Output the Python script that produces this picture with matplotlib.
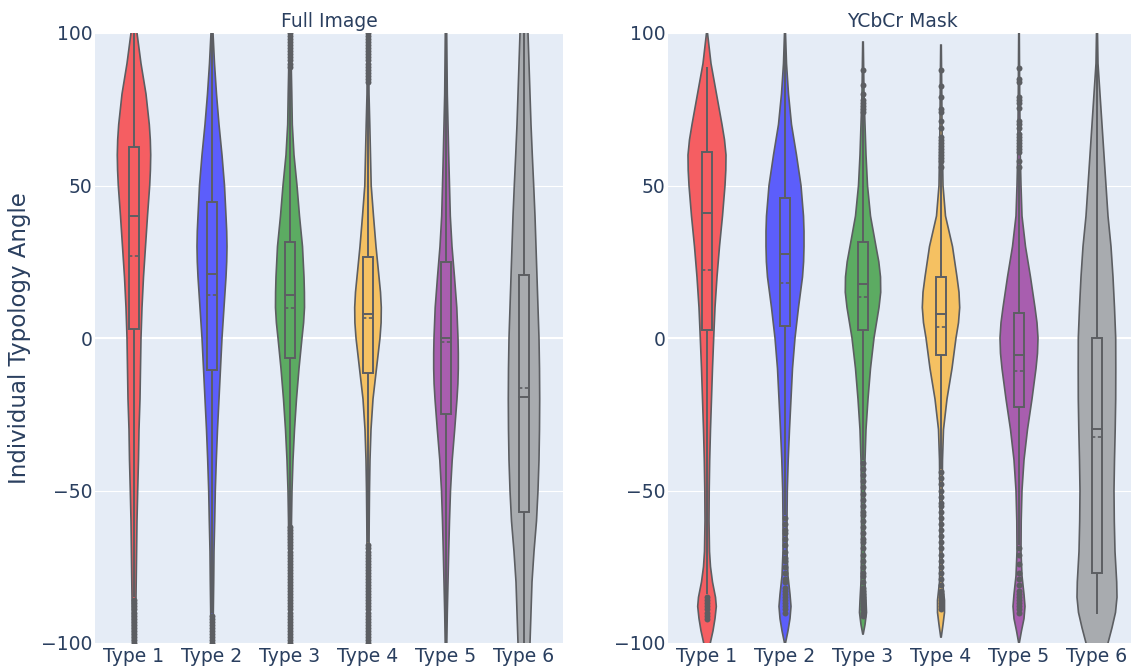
import matplotlib
matplotlib.use('Agg')
import matplotlib.pyplot as plt
from matplotlib.patches import Rectangle

# ---- data ----
types = ["Type 1", "Type 2", "Type 3", "Type 4", "Type 5", "Type 6"]
fills = ['#F55E62', '#5C5EFB', '#5CAB62', '#F5C162', '#A85EAF', '#A8ABAF']

# violin outlines: angle levels and half widths (px, relative density)
full_y1 = [100, 90, 80, 70, 65, 60, 55, 50, 40, 30, 20, 10, 0, -10, -20, -30, -40, -50, -60, -70, -80, -90, -100]
full_w1 = [3, 7, 12, 15.3, 16.3, 16.7, 16.4, 15.7, 13.5, 11.5, 9.5, 8, 7, 6.5, 6, 5, 4.5, 3.7, 3, 2.6, 2.2, 1.8, 1.5]
full_y2 = [100, 90, 80, 70, 60, 50, 40, 35, 30, 25, 20, 10, 0, -10, -20, -30, -40, -50, -60, -70, -80, -90, -100]
full_w2 = [1, 2.5, 4.5, 7, 10, 12.5, 14, 14.7, 15, 14.7, 14, 12, 10, 8.5, 7, 5.5, 4.3, 3.3, 2.7, 2, 1.7, 1.3, 1]
full_y3 = [100, 90, 80, 70, 60, 50, 40, 30, 20, 15, 10, 5, 0, -10, -20, -30, -40, -50, -60, -70, -80, -90, -100]
full_w3 = [0.8, 1.2, 1.8, 2.3, 4, 7, 9.5, 12.5, 14, 14.4, 14.5, 13.6, 12, 9, 6.5, 4.5, 3, 2, 1.5, 1.2, 1, 0.8, 0.6]
full_y4 = [100, 90, 80, 70, 60, 50, 40, 30, 20, 15, 10, 5, 0, -10, -20, -30, -40, -50, -60, -70, -80, -90, -100]
full_w4 = [0.5, 0.8, 1, 1.8, 2.5, 3.2, 5.5, 8, 11, 12.5, 13.3, 13.1, 12, 8.5, 5, 3, 2, 1.5, 1.2, 1, 0.8, 0.6, 0.5]
full_y5 = [100, 90, 80, 70, 60, 50, 40, 30, 20, 10, 0, -5, -10, -15, -20, -30, -40, -50, -60, -70, -80, -90, -100]
full_w5 = [0.7, 1, 1.3, 2, 2.7, 3.5, 4.3, 6, 8.5, 10.8, 12, 12.3, 12.3, 11.9, 11, 8.7, 6.2, 4.5, 3.5, 2.7, 2, 1.3, 0.8]
full_y6 = [100, 90, 80, 70, 60, 50, 40, 30, 20, 10, 0, -10, -20, -30, -40, -50, -60, -70, -80, -90, -100]
full_w6 = [4, 5, 6, 7, 8.3, 9.7, 11, 12, 13, 14, 15, 15.5, 15.7, 15.5, 15, 14, 12.5, 10, 8, 7, 6]

mask_y1 = [100, 90, 80, 70, 65, 60, 55, 50, 40, 30, 20, 10, 0, -10, -20, -30, -40, -50, -60, -70, -75, -80, -85, -88, -92, -96, -100]
mask_w1 = [0.5, 4, 9.5, 15, 17.5, 19, 18.8, 18, 15.5, 12.5, 10, 8, 6.7, 5.5, 4.5, 3.5, 2.7, 2.2, 2, 2.5, 3.5, 5.5, 8.5, 9.3, 8, 6, 3.3]
mask_y2 = [100, 90, 80, 70, 60, 50, 40, 35, 30, 25, 20, 10, 0, -10, -20, -30, -40, -50, -60, -70, -78, -84, -88, -92, -96, -100]
mask_w2 = [0.5, 1.5, 3.5, 6.5, 11.5, 16, 18.5, 19, 19, 18.6, 17.5, 13.5, 10, 7.5, 6, 4.5, 3.2, 2.3, 2, 2, 3, 5, 6, 5, 3, 0.5]
mask_y3 = [97, 90, 80, 70, 60, 50, 40, 30, 25, 20, 15, 10, 0, -10, -20, -30, -40, -50, -60, -70, -80, -86, -90, -94, -97]
mask_w3 = [0.3, 0.6, 1, 2, 3, 4.5, 7.5, 13, 15.8, 17.5, 17.7, 16, 11, 7.5, 5, 3, 2, 1.6, 1.5, 1.5, 2, 3, 3.5, 2, 0.3]
mask_y4 = [96, 90, 80, 70, 60, 50, 40, 30, 20, 15, 10, 5, 0, -10, -20, -30, -40, -50, -60, -70, -80, -86, -90, -94, -98]
mask_w4 = [0.3, 0.5, 0.8, 1, 1.5, 2, 4.5, 11.5, 16, 18, 18.7, 17.5, 15, 11, 6, 2.5, 1.5, 1.2, 1, 1, 1.5, 3.5, 3.5, 2, 0.3]
mask_y5 = [100, 90, 80, 70, 60, 50, 40, 30, 20, 10, 5, 0, -5, -10, -20, -30, -40, -50, -60, -70, -78, -84, -88, -92, -96, -100]
mask_w5 = [0.3, 0.5, 0.7, 1, 1.3, 2, 3, 6.5, 11.5, 16, 18, 19, 18.5, 17, 13, 8.5, 5, 3, 2.2, 2, 3, 5, 6, 5, 2.5, 0.3]
mask_y6 = [100, 90, 80, 70, 60, 50, 40, 30, 20, 10, 0, -10, -20, -30, -40, -50, -60, -70, -80, -85, -90, -95, -100]
mask_w6 = [0.5, 1, 3, 5, 7, 9, 11, 14, 16, 17.5, 18.7, 18.8, 18.7, 18.2, 17.5, 17, 17.3, 18, 19.7, 20, 18.5, 15, 11]

# box statistics
full_q1 = [3, -10.5, -6.5, -11.5, -25, -57]
full_med = [40, 21, 14, 8, 0, -19.5]
full_q3 = [62.5, 44.5, 31.5, 26.7, 25, 20.5]
full_mean = [27, 14, 10, 6.5, -1.2, -16.5]
full_lo = [-85, -90, -62, -67, -99, -100]
full_hi = [100, 100, 88, 83, 99, 100]

mask_q1 = [2.5, 4, 2.6, -5.7, -22.6, -77]
mask_med = [41, 27.5, 17.6, 7.8, -5.7, -29.7]
mask_q3 = [61, 46, 31.5, 20, 8.2, 0]
mask_mean = [22.4, 18, 13.3, 3.6, -10.8, -32.4]
mask_lo = [-84, -58, -40, -43, -68, -90.5]
mask_hi = [89, 100, 74, 57, 55, 100]

# outliers
full_out1 = [-86, -87, -88, -89, -90, -91, -92, -93, -94, -95, -96, -97, -98, -99, -100]
full_out2 = [-91, -92, -93, -94, -95, -96, -97, -98, -99, -100]
full_out3 = [89, 90, 91, 92, 93, 94, 95, 96, 97, 98, 99, 100,
             -62, -63, -64, -65, -66, -67, -68, -69, -70, -71, -72, -73, -74, -75, -76, -77, -78, -79, -80,
             -81, -82, -83, -84, -85, -86, -87, -88, -89, -90, -91, -92, -93, -94, -95, -96, -97, -98, -99, -100]
full_out4 = [84, 85, 86, 87, 88, 89, 90, 91, 92, 93, 94, 95, 96, 97, 98, 99, 100,
             -68, -69, -70, -71, -72, -73, -74, -75, -76, -77, -78, -79, -80, -81, -82, -83, -84,
             -85, -86, -87, -88, -89, -90, -91, -92, -93, -94, -95, -96, -97, -98, -99, -100]
full_out5 = []
full_out6 = []

mask_out1 = [-85, -86, -87, -88, -89, -90, -91, -92]
mask_out2 = [-59, -61, -63, -64, -66, -68, -70, -72, -73, -75, -77, -79, -80, -82, -83, -84,
             -85, -86, -87, -88, -89, -90]
mask_out3 = [74, 75, 76, 77, 78, 80, 83, 88,
             -41, -43, -45, -47, -49, -51, -53, -55, -57, -58, -60, -62, -64, -66, -67, -69, -71,
             -73, -75, -77, -78, -80, -82, -83, -84, -85, -86, -87, -88, -89, -90, -91]
mask_out4 = [56, 58, 59, 60, 61, 62, 63, 64, 65, 66, 69, 71, 74, 75, 79, 82.5, 88,
             -44, -46, -48, -50, -52, -54, -55, -57, -59, -61, -63, -65, -67, -69, -71, -73, -75,
             -77, -79, -81, -83, -84, -85, -86, -87, -88, -89]
mask_out5 = [56, 58, 61, 62, 63, 64, 65, 66, 67, 69, 70, 71, 75.5, 77, 78, 79, 84, 85, 88.5,
             -69, -71, -74, -77, -79, -81, -83, -84, -85, -86, -87, -88, -89, -90]
mask_out6 = []

full = dict(y=[full_y1, full_y2, full_y3, full_y4, full_y5, full_y6],
            w=[full_w1, full_w2, full_w3, full_w4, full_w5, full_w6],
            q1=full_q1, med=full_med, q3=full_q3, mean=full_mean, lo=full_lo, hi=full_hi,
            out=[full_out1, full_out2, full_out3, full_out4, full_out5, full_out6])
mask = dict(y=[mask_y1, mask_y2, mask_y3, mask_y4, mask_y5, mask_y6],
            w=[mask_w1, mask_w2, mask_w3, mask_w4, mask_w5, mask_w6],
            q1=mask_q1, med=mask_med, q3=mask_q3, mean=mask_mean, lo=mask_lo, hi=mask_hi,
            out=[mask_out1, mask_out2, mask_out3, mask_out4, mask_out5, mask_out6])

# ---- style ----
bg = '#E5ECF6'
line_c = '#5C5E62'
text_c = '#2a3f5f'
px_per_cat = 78.0
box_half = 5 / px_per_cat
plt.rcParams['font.family'] = ['DejaVu Sans']

fig = plt.figure(figsize=(11.31, 6.68), dpi=100)
ax_l = fig.add_axes([95 / 1131, 1 - 643 / 668, 468 / 1131, 610 / 668])
ax_r = fig.add_axes([668 / 1131, 1 - 643 / 668, 468 / 1131, 610 / 668])


def draw_panel(ax, d):
    ax.set_facecolor(bg)
    for s in ax.spines.values():
        s.set_visible(False)
    ax.set_xlim(-0.5, 5.5)
    ax.set_ylim(-100, 100)
    ax.set_yticks([-100, -50, 0, 50, 100])
    ax.set_xticks(range(6))
    ax.set_xticklabels(types)
    ax.tick_params(length=0, labelsize=13.5, labelcolor=text_c)
    ax.tick_params(axis='y', pad=2)
    ax.tick_params(axis='x', pad=3)
    ax.set_axisbelow(True)
    ax.yaxis.grid(True, color='white', lw=0.8)
    ax.axhline(0, color='white', lw=1.5, zorder=0.6)

    for i in range(6):
        y = d['y'][i]
        hw = [v / px_per_cat for v in d['w'][i]]
        left = [i - h for h in hw]
        right = [i + h for h in hw]
        ax.fill_betweenx(y, left, right, facecolor=fills[i], edgecolor='none', zorder=2)
        ax.plot(left, y, color=line_c, lw=1.2, zorder=3)
        ax.plot(right, y, color=line_c, lw=1.2, zorder=3)
        # whisker
        ax.plot([i, i], [d['lo'][i], d['hi'][i]], color=line_c, lw=1.4, zorder=4, solid_capstyle='butt')
        # box
        ax.add_patch(Rectangle((i - box_half, d['q1'][i]), 2 * box_half, d['q3'][i] - d['q1'][i],
                               facecolor=fills[i], edgecolor=line_c, lw=1.4, zorder=5))
        ax.plot([i - box_half, i + box_half], [d['med'][i]] * 2, color=line_c, lw=1.4, zorder=6)
        ax.plot([i - box_half, i + box_half], [d['mean'][i]] * 2, color=line_c, lw=1.2,
                ls=(0, (2, 1.5)), zorder=6)
        if d['out'][i]:
            ax.plot([i] * len(d['out'][i]), d['out'][i], 'o', ms=4.3, color=line_c,
                    mec='none', zorder=7)


draw_panel(ax_l, full)
draw_panel(ax_r, mask)

ax_l.set_ylabel('Individual Typology Angle', fontsize=16.5, color=text_c)
ax_l.yaxis.set_label_coords((31 - 95) / 468, 0.5)

fig.text(329 / 1131, 1 - 27 / 668, 'Full Image', ha='center', va='baseline', fontsize=13.5, color=text_c)
fig.text(902 / 1131, 1 - 27 / 668, 'YCbCr Mask', ha='center', va='baseline', fontsize=13.5, color=text_c)

fig.savefig('out.png', dpi=100, facecolor='white')
